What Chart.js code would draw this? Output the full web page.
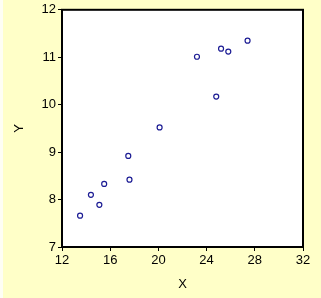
<!DOCTYPE html>
<html><head><meta charset="utf-8">
<script src="https://cdn.jsdelivr.net/npm/chart.js@4"></script>
<style>html,body{margin:0;padding:0;background:#ffffc8;}#wrap{width:321px;height:298px;}</style>
</head><body><div id="wrap"><canvas id="c" width="321" height="298"></canvas></div>
<script>
const xValues = [13.5, 14.4, 15.1, 15.5, 17.5, 17.6, 20.1, 23.2, 24.8, 25.2, 25.8, 27.4];
const yValues = [7.66, 8.10, 7.89, 8.33, 8.92, 8.42, 9.52, 11.01, 10.17, 11.18, 11.12, 11.35];
const xTicks = [12, 16, 20, 24, 28, 32];
const yTicks = [7, 8, 9, 10, 11, 12];
const xTitle = 'X';
const yTitle = 'Y';

const points = xValues.map((x, i) => ({x: x, y: yValues[i]}));

const bgPlugin = {
  id: 'bg',
  beforeDraw(chart) {
    const ctx = chart.ctx, a = chart.chartArea;
    ctx.save();
    ctx.fillStyle = '#ffffc8';
    ctx.fillRect(0, 0, chart.width, chart.height);
    ctx.fillStyle = '#fefef4';
    ctx.fillRect(0, 0, 3, chart.height);
    ctx.fillStyle = '#ffffff';
    ctx.fillRect(a.left, a.top, a.right - a.left, a.bottom - a.top);
    ctx.restore();
  },
  afterDatasetsDraw(chart) {
    const ctx = chart.ctx, a = chart.chartArea;
    ctx.save();
    ctx.strokeStyle = '#000';
    ctx.lineWidth = 2;
    ctx.strokeRect(a.left, a.top, a.right - a.left, a.bottom - a.top);
    ctx.restore();
  }
};

const font = {family: 'Arial, "Liberation Sans", sans-serif', size: 13};

new Chart(document.getElementById('c'), {
  type: 'scatter',
  data: {datasets: [{
    data: points,
    borderColor: '#1c1c94',
    backgroundColor: 'rgba(0,0,0,0)',
    borderWidth: 1.2,
    pointRadius: 2.5,
    pointStyle: 'circle'
  }]},
  options: {
    responsive: false,
    animation: false,
    events: [],
    layout: {padding: {top: 7, right: 18, left: 0, bottom: 0}},
    plugins: {legend: {display: false}, tooltip: {enabled: false}},
    scales: {
      x: {
        type: 'linear', min: 12, max: 32,
        afterBuildTicks(s) { s.ticks = xTicks.map(v => ({value: v})); },
        afterFit(s) { s.height = 51; },
        ticks: {color: '#000', font: font, padding: 2, maxRotation: 0, autoSkip: false},
        grid: {drawOnChartArea: false, drawTicks: true, tickLength: 4, color: '#000', lineWidth: 1},
        border: {display: true, color: '#000', width: 2},
        title: {display: true, text: xTitle, color: '#000', font: font, padding: {top: 0, bottom: 6}}
      },
      y: {
        type: 'linear', min: 7, max: 12,
        afterBuildTicks(s) { s.ticks = yTicks.map(v => ({value: v})); },
        afterFit(s) { s.width = 62; },
        ticks: {color: '#000', font: font, padding: 2, autoSkip: false},
        grid: {drawOnChartArea: false, drawTicks: true, tickLength: 4, color: '#000', lineWidth: 1},
        border: {display: true, color: '#000', width: 2},
        title: {display: true, text: yTitle, color: '#000', font: font, padding: {top: 12, bottom: 0}}
      }
    }
  },
  plugins: [bgPlugin]
});
</script></body></html>
